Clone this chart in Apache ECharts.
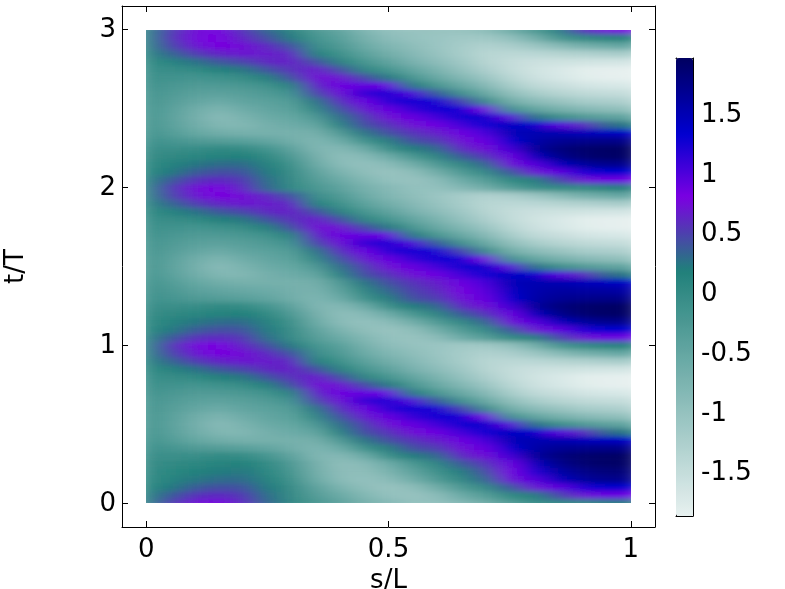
<!DOCTYPE html>
<html>
<head>
<meta charset="utf-8">
<style>html,body{margin:0;padding:0;background:#fff}#c{width:785px;height:589px}</style>
<script src="https://cdn.jsdelivr.net/npm/echarts@6/dist/echarts.min.js"></script>
</head>
<body>
<svg width="0" height="0" style="position:absolute"><filter id="soft" x="0" y="0" width="100%" height="100%"><feGaussianBlur stdDeviation="11 2.4"/></filter></svg>
<div id="c"></div>
<script>
const sValues = [0,0.05,0.1,0.15,0.2,0.25,0.3,0.35,0.4,0.45,0.5,0.55,0.6,0.65,0.7,0.75,0.8,0.85,0.9,0.95,1];
const tValues = [0,0.05,0.1,0.15,0.2,0.25,0.3,0.35,0.4,0.45,0.5,0.55,0.6,0.65,0.7,0.75,0.8,0.85,0.9,0.95,1,
 1.05,1.1,1.15,1.2,1.25,1.3,1.35,1.4,1.45,1.5,1.55,1.6,1.65,1.7,1.75,1.8,1.85,1.9,1.95,2,
 2.05,2.1,2.15,2.2,2.25,2.3,2.35,2.4,2.45,2.5,2.55,2.6,2.65,2.7,2.75,2.8,2.85,2.9,2.95,3];
const xTicks = [0,0.5,1];
const yTicks = [0,1,2,3];
const barTicks = [-1.5,-1,-0.5,0,0.5,1,1.5];
const barMin = -1.88, barMax = 1.954;
// one list per t row, bottom to top; one value per s column
const field = [
[.05,.5,.72,.78,.6,.3,0,-.25,-.45,-.7,-.85,-1,-1,-.85,-.65,-.35,-.1,0,.02,.15,.2],
[.03,.35,.55,.6,.52,.26,-.02,-.35,-.58,-.82,-1,-1.05,-.92,-.6,-.35,0,.15,.45,.7,.85,.85],
[0,.2,.35,.42,.4,.2,-.05,-.45,-.75,-.95,-1.05,-.95,-.65,-.3,-.02,.35,.7,.9,1.2,1.3,1.3],
[-.02,.1,.22,.28,.28,.12,-.12,-.58,-.9,-1,-.9,-.65,-.3,.02,.3,.72,.95,1.4,1.6,1.7,1.7],
[-.03,.06,.15,.2,.22,.06,-.2,-.65,-.92,-.95,-.75,-.45,-.12,.18,.42,.78,1.18,1.55,1.72,1.81,1.81],
[-.05,.02,.08,.12,.15,0,-.28,-.68,-.95,-.88,-.6,-.25,.05,.35,.55,.85,1.4,1.7,1.85,1.92,1.92],
[-.1,-.08,-.06,0,-.02,-.2,-.45,-.8,-.85,-.6,-.1,.18,.3,.6,.72,1.05,1.6,1.78,1.88,1.92,1.94],
[-.15,-.2,-.3,-.35,-.4,-.5,-.65,-.8,-.6,-.15,.18,.42,.5,.72,.88,1.3,1.55,1.65,1.7,1.72,1.72],
[-.18,-.32,-.52,-.65,-.7,-.7,-.7,-.68,-.3,.22,.42,.55,.65,.85,1.02,1.45,1.5,1.5,1.45,1.42,1.4],
[-.2,-.4,-.62,-.82,-.82,-.68,-.6,-.5,.1,.42,.55,.72,.85,1.05,1.25,1.4,1.35,.95,.6,.3,.2],
[-.22,-.42,-.66,-.88,-.75,-.58,-.52,-.28,.25,.5,.72,.88,1.05,1.28,1.35,.9,.25,-.1,-.3,-.45,-.5],
[-.22,-.4,-.62,-.78,-.62,-.5,-.42,.02,.4,.68,.88,1.1,1.25,1.25,.8,-.15,-.5,-.7,-.85,-.95,-1],
[-.2,-.35,-.5,-.6,-.48,-.42,-.32,.22,.58,.85,1.15,1.25,1.2,.5,-.05,-.65,-.9,-1.05,-1.2,-1.25,-1.3],
[-.2,-.3,-.4,-.45,-.38,-.3,-.16,.45,.72,1.1,1.2,.95,.35,-.15,-.55,-.95,-1.2,-1.35,-1.45,-1.5,-1.52],
[-.15,-.25,-.3,-.3,-.25,-.15,.12,.62,.85,.9,.85,.2,-.25,-.55,-.85,-1.2,-1.45,-1.55,-1.65,-1.7,-1.72],
[-.12,-.15,-.18,-.12,-.05,.15,.42,.72,.7,.45,.2,-.25,-.55,-.82,-1.08,-1.38,-1.58,-1.7,-1.8,-1.85,-1.86],
[-.1,-.05,0,.15,.22,.4,.56,.68,.42,.05,-.2,-.5,-.75,-1,-1.25,-1.48,-1.62,-1.72,-1.82,-1.85,-1.86],
[-.05,.1,.24,.38,.46,.6,.64,.42,.12,-.22,-.45,-.72,-.92,-1.12,-1.35,-1.5,-1.58,-1.6,-1.62,-1.65,-1.65],
[0,.3,.5,.62,.68,.66,.6,.14,-.12,-.42,-.65,-.85,-1.02,-1.2,-1.38,-1.42,-1.4,-1.35,-1.3,-1.25,-1.2],
[.02,.45,.68,.78,.72,.6,.4,-.08,-.28,-.58,-.8,-.95,-1.08,-1.2,-1.3,-1.25,-1.1,-.9,-.7,-.6,-.5],
[.04,.52,.75,.8,.62,.42,.2,-.2,-.4,-.7,-.92,-1.02,-1.08,-1.15,-1.15,-1,-.7,-.25,0,.1,.15],
[.03,.35,.55,.6,.52,.26,-.02,-.35,-.58,-.82,-1,-1.05,-.92,-.6,-.35,0,.15,.45,.7,.85,.85],
[0,.2,.35,.42,.4,.2,-.05,-.45,-.75,-.95,-1.05,-.95,-.65,-.3,-.02,.35,.7,.9,1.2,1.3,1.3],
[-.02,.1,.22,.28,.28,.12,-.12,-.58,-.9,-1,-.9,-.65,-.3,.02,.3,.72,.95,1.4,1.6,1.7,1.7],
[-.05,.02,.08,.12,.15,0,-.28,-.68,-.95,-.88,-.6,-.25,.05,.35,.55,.85,1.4,1.7,1.85,1.92,1.92],
[-.1,-.08,-.06,0,-.02,-.2,-.45,-.8,-.85,-.6,-.1,.18,.3,.6,.72,1.05,1.6,1.78,1.88,1.92,1.94],
[-.15,-.2,-.3,-.35,-.4,-.5,-.65,-.8,-.6,-.15,.18,.42,.5,.72,.88,1.3,1.55,1.65,1.7,1.72,1.72],
[-.17,-.26,-.41,-.5,-.55,-.6,-.68,-.74,-.45,.03,.3,.48,.58,.78,.95,1.38,1.52,1.58,1.58,1.58,1.56],
[-.18,-.32,-.52,-.65,-.7,-.7,-.7,-.68,-.3,.22,.42,.55,.65,.85,1.02,1.45,1.5,1.5,1.45,1.42,1.4],
[-.2,-.4,-.62,-.82,-.82,-.68,-.6,-.5,.1,.42,.55,.72,.85,1.05,1.25,1.4,1.35,.95,.6,.3,.2],
[-.22,-.42,-.66,-.88,-.75,-.58,-.52,-.28,.25,.5,.72,.88,1.05,1.28,1.35,.9,.25,-.1,-.3,-.45,-.5],
[-.22,-.4,-.62,-.78,-.62,-.5,-.42,.02,.4,.68,.88,1.1,1.25,1.25,.8,-.15,-.5,-.7,-.85,-.95,-1],
[-.2,-.35,-.5,-.6,-.48,-.42,-.32,.22,.58,.85,1.15,1.25,1.2,.5,-.05,-.65,-.9,-1.05,-1.2,-1.25,-1.3],
[-.2,-.3,-.4,-.45,-.38,-.3,-.16,.45,.72,1.1,1.2,.95,.35,-.15,-.55,-.95,-1.2,-1.35,-1.45,-1.5,-1.52],
[-.15,-.25,-.3,-.3,-.25,-.15,.12,.62,.85,.9,.85,.2,-.25,-.55,-.85,-1.2,-1.45,-1.55,-1.65,-1.7,-1.72],
[-.12,-.15,-.18,-.12,-.05,.15,.42,.72,.7,.45,.2,-.25,-.55,-.82,-1.08,-1.38,-1.58,-1.7,-1.8,-1.85,-1.86],
[-.1,-.05,0,.15,.22,.4,.56,.68,.42,.05,-.2,-.5,-.75,-1,-1.25,-1.48,-1.62,-1.72,-1.82,-1.85,-1.86],
[-.05,.1,.24,.38,.46,.6,.64,.42,.12,-.22,-.45,-.72,-.92,-1.12,-1.35,-1.5,-1.58,-1.6,-1.62,-1.65,-1.65],
[0,.3,.5,.62,.68,.66,.6,.14,-.12,-.42,-.65,-.85,-1.02,-1.2,-1.38,-1.42,-1.4,-1.35,-1.3,-1.25,-1.2],
[.02,.45,.68,.78,.72,.6,.4,-.08,-.28,-.58,-.8,-.95,-1.08,-1.2,-1.3,-1.25,-1.1,-.9,-.7,-.6,-.5],
[.05,.5,.72,.78,.6,.3,0,-.25,-.45,-.7,-.85,-1,-1,-.85,-.65,-.35,-.1,0,.02,.15,.2],
[.03,.35,.55,.6,.52,.26,-.02,-.35,-.58,-.82,-1,-1.05,-.92,-.6,-.35,0,.15,.45,.7,.85,.85],
[0,.2,.35,.42,.4,.2,-.05,-.45,-.75,-.95,-1.05,-.95,-.65,-.3,-.02,.35,.7,.9,1.2,1.3,1.3],
[-.02,.1,.22,.28,.28,.12,-.12,-.58,-.9,-1,-.9,-.65,-.3,.02,.3,.72,.95,1.4,1.6,1.7,1.7],
[-.05,.02,.08,.12,.15,0,-.28,-.68,-.95,-.88,-.6,-.25,.05,.35,.55,.85,1.4,1.7,1.85,1.92,1.92],
[-.1,-.08,-.06,0,-.02,-.2,-.45,-.8,-.85,-.6,-.1,.18,.3,.6,.72,1.05,1.6,1.78,1.88,1.92,1.94],
[-.15,-.2,-.3,-.35,-.4,-.5,-.65,-.8,-.6,-.15,.18,.42,.5,.72,.88,1.3,1.55,1.65,1.7,1.72,1.72],
[-.18,-.32,-.52,-.65,-.7,-.7,-.7,-.68,-.3,.22,.42,.55,.65,.85,1.02,1.45,1.5,1.5,1.45,1.42,1.4],
[-.2,-.4,-.62,-.82,-.82,-.68,-.6,-.5,.1,.42,.55,.72,.85,1.05,1.25,1.4,1.35,.95,.6,.3,.2],
[-.22,-.42,-.66,-.88,-.75,-.58,-.52,-.28,.25,.5,.72,.88,1.05,1.28,1.35,.9,.25,-.1,-.3,-.45,-.5],
[-.22,-.4,-.62,-.78,-.62,-.5,-.42,.02,.4,.68,.88,1.1,1.25,1.25,.8,-.15,-.5,-.7,-.85,-.95,-1],
[-.2,-.35,-.5,-.6,-.48,-.42,-.32,.22,.58,.85,1.15,1.25,1.2,.5,-.05,-.65,-.9,-1.05,-1.2,-1.25,-1.3],
[-.2,-.3,-.4,-.45,-.38,-.3,-.16,.45,.72,1.1,1.2,.95,.35,-.15,-.55,-.95,-1.2,-1.35,-1.45,-1.5,-1.52],
[-.15,-.25,-.3,-.3,-.25,-.15,.12,.62,.85,.9,.85,.2,-.25,-.55,-.85,-1.2,-1.45,-1.55,-1.65,-1.7,-1.72],
[-.12,-.15,-.18,-.12,-.05,.15,.42,.72,.7,.45,.2,-.25,-.55,-.82,-1.08,-1.38,-1.58,-1.7,-1.8,-1.85,-1.86],
[-.1,-.05,0,.15,.22,.4,.56,.68,.42,.05,-.2,-.5,-.75,-1,-1.25,-1.48,-1.62,-1.72,-1.82,-1.85,-1.86],
[-.05,.1,.24,.38,.46,.6,.64,.42,.12,-.22,-.45,-.72,-.92,-1.12,-1.35,-1.5,-1.58,-1.6,-1.62,-1.65,-1.65],
[0,.3,.5,.62,.68,.66,.6,.14,-.12,-.42,-.65,-.85,-1.02,-1.2,-1.38,-1.42,-1.4,-1.35,-1.3,-1.25,-1.2],
[.02,.45,.68,.78,.72,.6,.4,-.08,-.28,-.58,-.8,-.95,-1.08,-1.2,-1.3,-1.25,-1.1,-.9,-.7,-.6,-.5],
[.04,.52,.75,.8,.62,.42,.2,-.2,-.4,-.7,-.92,-1.02,-1.08,-1.15,-1.15,-1,-.7,-.25,0,.1,.15],
[.05,.5,.72,.78,.55,.3,.08,-.3,-.5,-.8,-1,-1.05,-1.05,-1.05,-.95,-.65,-.3,.1,.55,.75,.8]
];

// colour ramp of the colour bar: value, rgb
const rampStops = [[-1.88,[232,241,240]],[0.18,[32,128,122]],[0.79,[123,0,226]],[1.32,[0,0,208]],[1.954,[0,0,96]]];
function rampAt(v){
  for(let i=1;i<rampStops.length;i++){
    if(v<=rampStops[i][0]||i===rampStops.length-1){
      const a=rampStops[i-1],b=rampStops[i],f=(v-a[0])/(b[0]-a[0]);
      return 'rgb('+a[1].map((c,k)=>Math.round(c+(b[1][k]-c)*f)).join(',')+')';
    }
  }
}
const rampColors=[];for(let i=0;i<=96;i++)rampColors.push(rampAt(barMin+(barMax-barMin)*i/96));

const cells=[];
field.forEach((row,j)=>row.forEach((v,i)=>cells.push([i,j,v])));

const FONT='"DejaVu Sans"', INK='#000', FS=26;
const frameAxis=(extra)=>Object.assign({type:'value',splitLine:{show:false},
  axisLine:{show:true,onZero:false,lineStyle:{color:'#000',width:1}},
  axisTick:{show:true,inside:true,length:6,lineStyle:{color:'#000',width:1}},
  axisLabel:{show:false,fontFamily:FONT,fontSize:FS,color:INK}},extra);
const lowered=(top)=>({formatter:v=>'{a|'+v+'}',rich:{a:{fontFamily:FONT,fontSize:FS,color:INK,padding:[top,0,0,0]}}});

// plot rectangle: s 0..1 spans 146..631, t 0..3 spans 503..30
const cellW=485/20, cellH=473/60;
const option={
  animation:false,backgroundColor:'#fff',
  grid:[
    {left:122,top:6,width:533,height:521,show:false,outerBoundsMode:'none'},
    {left:146-cellW/2,top:30-cellH/2,width:485+cellW,height:473+cellH,show:false,outerBoundsMode:'none'},
    {left:676,top:58,width:17,height:458,show:false,outerBoundsMode:'none'}
  ],
  xAxis:[
    frameAxis({gridIndex:0,min:-0.05,max:1.05,position:'bottom',name:'s/L',nameLocation:'middle',nameGap:35,
      nameTextStyle:{fontFamily:FONT,fontSize:FS,color:INK},
      axisTick:{show:true,inside:true,length:6,customValues:xTicks,lineStyle:{color:'#000'}},
      axisLabel:{show:true,fontFamily:FONT,fontSize:FS,color:INK,margin:10,customValues:xTicks,formatter:v=>String(v)}}),
    frameAxis({gridIndex:0,min:-0.05,max:1.05,position:'top',
      axisTick:{show:true,inside:true,length:6,customValues:xTicks,lineStyle:{color:'#000'}}}),
    {type:'category',gridIndex:1,data:sValues,show:false},
    frameAxis({gridIndex:2,min:0,max:1,position:'bottom',axisTick:{show:false}}),
    frameAxis({gridIndex:2,min:0,max:1,position:'top',axisTick:{show:false}})
  ],
  yAxis:[
    frameAxis({gridIndex:0,min:-0.15,max:3.15,position:'left',name:'t/T',nameLocation:'middle',nameGap:93,nameRotate:90,
      nameTextStyle:{fontFamily:FONT,fontSize:FS,color:INK},
      axisTick:{show:true,inside:true,length:6,customValues:yTicks,lineStyle:{color:'#000'}},
      axisLabel:Object.assign({show:true,margin:6,customValues:yTicks},lowered(2))}),
    frameAxis({gridIndex:0,min:-0.15,max:3.15,position:'right',
      axisTick:{show:true,inside:true,length:6,customValues:yTicks,lineStyle:{color:'#000'}}}),
    {type:'category',gridIndex:1,data:tValues,show:false},
    frameAxis({gridIndex:2,min:barMin,max:barMax,position:'left',
      axisTick:{show:true,inside:true,length:4,customValues:barTicks,lineStyle:{color:'#000'}}}),
    frameAxis({gridIndex:2,min:barMin,max:barMax,position:'right',
      axisTick:{show:true,inside:true,length:4,customValues:barTicks,lineStyle:{color:'#000'}},
      axisLabel:Object.assign({show:true,margin:8,customValues:barTicks},lowered(6))})
  ],
  visualMap:{type:'continuous',min:barMin,max:barMax,seriesIndex:0,calculable:false,text:['',''],
    left:676,top:58,itemWidth:17,itemHeight:458,padding:0,hoverLink:false,
    inRange:{color:rampColors}},
  series:[{type:'heatmap',xAxisIndex:2,yAxisIndex:2,data:cells,zlevel:1,progressive:0,
    itemStyle:{borderWidth:0},emphasis:{disabled:true},silent:true}]
};
const chart=echarts.init(document.getElementById('c'),null,{renderer:'canvas',width:785,height:589});
chart.setOption(option);
function soften(){
  const cs=document.querySelectorAll('#c canvas');
  if(cs.length>1){
    const top=cs[cs.length-1];
    top.style.filter='url(#soft)';
    top.style.clipPath='inset(30px 154px 86px 146px)';
  }
}
soften();
chart.on('finished',soften);
</script>
</body>
</html>
